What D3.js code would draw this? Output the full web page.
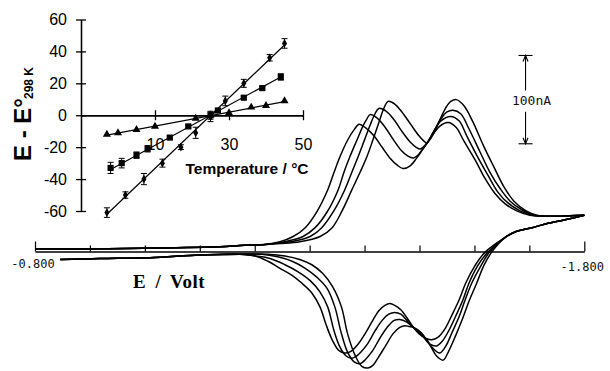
<!DOCTYPE html>
<html>
<head>
<meta charset="utf-8">
<script src="https://cdnjs.cloudflare.com/ajax/libs/d3/7.8.5/d3.min.js"></script>
<style>
  body { margin: 0; background: #fff; }
  svg { display: block; }
</style>
</head>
<body>
<div id="chart"></div>
<script>
// ---------------------------------------------
// Cyclic voltammograms at four temperatures
// points are [E (V), i (nA)]
// ---------------------------------------------
const fwdStart = [[-0.800, 3], [-0.918, 3], [-1.028, 4], [-1.119, 5], [-1.182, 7], [-1.219, 8]];

const fwd1 = [[-1.246, 11], [-1.270, 17], [-1.292, 27], [-1.313, 45], [-1.333, 70], [-1.344, 89],
  [-1.355, 107], [-1.369, 126], [-1.381, 138], [-1.390, 144], [-1.402, 140], [-1.417, 131],
  [-1.432, 118], [-1.446, 106], [-1.459, 98], [-1.470, 94], [-1.483, 97], [-1.495, 106],
  [-1.506, 116], [-1.515, 124], [-1.526, 134], [-1.537, 142], [-1.552, 146], [-1.566, 141],
  [-1.581, 125], [-1.601, 104], [-1.619, 83], [-1.637, 66], [-1.656, 54], [-1.677, 46], [-1.701, 41]];

const fwd2 = [[-1.246, 10], [-1.268, 13], [-1.288, 17], [-1.310, 27], [-1.332, 45], [-1.352, 70],
  [-1.362, 89], [-1.373, 107], [-1.386, 126], [-1.397, 142], [-1.404, 150], [-1.410, 155],
  [-1.423, 151], [-1.437, 141], [-1.452, 127], [-1.466, 115], [-1.479, 108], [-1.489, 106],
  [-1.497, 109], [-1.506, 116], [-1.515, 124], [-1.526, 136], [-1.539, 148], [-1.557, 153],
  [-1.572, 148], [-1.586, 131], [-1.606, 107], [-1.625, 86], [-1.643, 67], [-1.661, 55],
  [-1.683, 46], [-1.705, 41]];

const fwd3 = [[-1.246, 10], [-1.273, 12], [-1.301, 17], [-1.322, 27], [-1.344, 46], [-1.364, 70],
  [-1.377, 90], [-1.388, 107], [-1.399, 125], [-1.410, 143], [-1.419, 156], [-1.426, 162],
  [-1.439, 159], [-1.454, 149], [-1.468, 136], [-1.483, 124], [-1.494, 118], [-1.501, 116],
  [-1.508, 119], [-1.515, 124], [-1.526, 136], [-1.539, 150], [-1.550, 158], [-1.561, 160],
  [-1.575, 156], [-1.590, 139], [-1.610, 113], [-1.628, 90], [-1.647, 71], [-1.665, 57],
  [-1.687, 47], [-1.708, 41]];

const fwd4 = [[-1.246, 9], [-1.282, 11], [-1.319, 17], [-1.341, 27], [-1.359, 46], [-1.377, 70],
  [-1.392, 90], [-1.404, 107], [-1.415, 126], [-1.426, 146], [-1.435, 162], [-1.443, 170],
  [-1.455, 167], [-1.468, 158], [-1.484, 144], [-1.499, 131], [-1.508, 125], [-1.513, 123],
  [-1.517, 125], [-1.526, 134], [-1.537, 149], [-1.548, 163], [-1.557, 170], [-1.567, 172],
  [-1.581, 165], [-1.597, 147], [-1.617, 119], [-1.636, 95], [-1.654, 73], [-1.672, 57],
  [-1.694, 46], [-1.714, 41]];

const fwdEnd = [[-1.728, 40], [-1.756, 40], [-1.800, 41]];

const revStart = [[-1.800, 41], [-1.765, 36], [-1.734, 32], [-1.705, 27], [-1.677, 23], [-1.656, 16]];

const rev1 = [[-1.619, -1], [-1.601, -16], [-1.584, -36], [-1.572, -55], [-1.559, -72], [-1.546, -88],
  [-1.534, -97], [-1.522, -100], [-1.510, -98], [-1.499, -93], [-1.489, -86], [-1.477, -75],
  [-1.466, -66], [-1.455, -61], [-1.446, -59], [-1.437, -61], [-1.426, -67], [-1.413, -80],
  [-1.401, -93], [-1.388, -105], [-1.375, -113], [-1.364, -115], [-1.353, -112], [-1.341, -100],
  [-1.330, -83], [-1.319, -63], [-1.304, -47], [-1.286, -36], [-1.268, -27], [-1.246, -19],
  [-1.224, -11], [-1.201, -5]];

const rev2 = [[-1.624, -1], [-1.606, -16], [-1.590, -36], [-1.579, -55], [-1.566, -73], [-1.553, -90],
  [-1.541, -102], [-1.531, -107], [-1.519, -105], [-1.506, -96], [-1.497, -90], [-1.489, -86],
  [-1.477, -78], [-1.466, -71], [-1.455, -69], [-1.444, -71], [-1.432, -78], [-1.419, -90],
  [-1.406, -104], [-1.393, -114], [-1.384, -119], [-1.376, -121], [-1.366, -118], [-1.355, -108],
  [-1.344, -89], [-1.333, -63], [-1.319, -46], [-1.301, -33], [-1.279, -23], [-1.255, -15],
  [-1.228, -8], [-1.201, -5]];

const rev3 = [[-1.627, -1], [-1.612, -16], [-1.595, -36], [-1.583, -55], [-1.572, -74], [-1.559, -92],
  [-1.548, -107], [-1.537, -115], [-1.525, -110], [-1.512, -99], [-1.501, -91], [-1.489, -86],
  [-1.477, -80], [-1.464, -77], [-1.454, -78], [-1.441, -86], [-1.428, -98], [-1.415, -112],
  [-1.402, -122], [-1.392, -127], [-1.381, -125], [-1.369, -114], [-1.357, -91], [-1.346, -63],
  [-1.332, -42], [-1.313, -29], [-1.292, -19], [-1.268, -11], [-1.242, -6], [-1.213, -3]];

const rev4 = [[-1.631, -1], [-1.617, -16], [-1.604, -36], [-1.591, -55], [-1.579, -75], [-1.566, -95],
  [-1.553, -113], [-1.543, -123], [-1.532, -119], [-1.519, -106], [-1.503, -92], [-1.489, -86],
  [-1.481, -85], [-1.474, -84], [-1.464, -86], [-1.452, -93], [-1.439, -106], [-1.426, -119],
  [-1.415, -129], [-1.406, -132], [-1.395, -130], [-1.383, -118], [-1.369, -93], [-1.358, -63],
  [-1.342, -40], [-1.324, -25], [-1.304, -15], [-1.282, -9], [-1.255, -5], [-1.224, -3]];

const revEnd = [[-1.173, -3], [-1.100, -4], [-1.009, -7], [-0.918, -8], [-0.846, -9]];

const cvTicks = [-0.8, -0.9, -1.0, -1.1, -1.2, -1.3, -1.4, -1.5, -1.6, -1.7, -1.8];
const cvLabels = [[-0.8, "-0.800"], [-1.8, "-1.800"]];
const scaleBar = { e: -1.693, lo: 122, hi: 222, label: "100nA" };

// ---------------------------------------------
// Inset: E - E°(298 K) vs temperature
// ---------------------------------------------
const diamondT = [-3, 2, 7, 12, 17, 21, 25, 29, 34, 41, 45];
const diamondE = [-61, -50, -40, -30, -20, -11, -1, 9, 20, 36, 45];
const diamondErr = [3, 2, 3.5, 2.5, 1.5, 3.5, 3, 3, 2.5, 2, 3];
const diamondFit = [[-3, -62], [45, 44]];

const squareT = [-2, 1, 5, 8, 14, 19, 25, 27, 34, 39, 44];
const squareE = [-33, -30, -25, -21, -14, -7, 0, 3, 11, 17, 24];
const squareErr = [3.5, 3, 2, 2, 1, 1, 2.5, 1, 1, 1, 2];
const squareFit = [[-2, -34], [44, 24]];

const triangleT = [-3, 0, 5, 10, 21, 25, 30, 36, 40, 45];
const triangleE = [-12, -11, -9, -7, -2, 0, 1.5, 5, 6, 9];
const triangleFit = [[-3, -12.5], [45, 8.5]];

const insetYTicks = [-60, -40, -20, 0, 20, 40, 60];
const insetXTicks = [10, 30, 50];

//--------------------------------------------------
const W = 610, H = 371;
const sans = "'Liberation Sans', Arial, sans-serif";
const mono = "'DejaVu Sans Mono', monospace";

const svg = d3.select("#chart")
  .append("svg")
  .attr("width", W)
  .attr("height", H);

svg.append("rect").attr("width", W).attr("height", H).attr("fill", "#fff");

//--------------------------------------------------
// Main CV plot
//--------------------------------------------------
const x = d3.scaleLinear().domain([-0.8, -1.8]).range([35, 584.3]);
const y = d3.scaleLinear().domain([0, 100]).range([251.5, 163.2]);

const cvLine = d3.line()
  .x(d => x(d[0]))
  .y(d => y(d[1]))
  .curve(d3.curveCatmullRom.alpha(0.5));

const curves = [
  fwdStart.concat(fwd1, fwdEnd), fwdStart.concat(fwd2, fwdEnd),
  fwdStart.concat(fwd3, fwdEnd), fwdStart.concat(fwd4, fwdEnd),
  revStart.concat(rev1, revEnd), revStart.concat(rev2, revEnd),
  revStart.concat(rev3, revEnd), revStart.concat(rev4, revEnd)
];

// potential axis (ticks point up)
const xAxis = svg.append("g")
  .attr("transform", `translate(0,${y(0)})`)
  .call(d3.axisBottom(x).tickValues(cvTicks).tickSize(-6).tickSizeOuter(0).tickFormat(""));
xAxis.select(".domain").attr("stroke", "#000").attr("stroke-width", 1.3);
xAxis.selectAll(".tick line")
  .attr("stroke", "#000")
  .attr("stroke-width", 1.2)
  .attr("y2", (d, i) => (i === 0 || i === cvTicks.length - 1) ? -10 : -6);

svg.selectAll(".cv")
  .data(curves)
  .join("path")
  .attr("class", "cv")
  .attr("fill", "none")
  .attr("stroke", "#000")
  .attr("stroke-width", 1.5)
  .attr("d", cvLine);

svg.selectAll(".cvlab")
  .data(cvLabels)
  .join("text")
  .attr("class", "cvlab")
  .attr("x", d => x(d[0]) - 2)
  .attr("y", (d, i) => y(0) + (i === 0 ? 16 : 19))
  .attr("text-anchor", "middle")
  .attr("font-family", mono)
  .attr("font-size", "12px")
  .attr("fill", "#111")
  .text(d => d[1]);

svg.append("text")
  .attr("x", 133)
  .attr("y", 288)
  .attr("font-family", "'Liberation Serif', 'Times New Roman', serif")
  .attr("font-weight", "bold")
  .attr("font-size", "19px")
  .attr("letter-spacing", "0.5px")
  .attr("word-spacing", "4px")
  .text("E / Volt");

// current scale bar
const sb = svg.append("g").attr("stroke", "#000").attr("stroke-width", 1.1).attr("fill", "none");
const sbx = x(scaleBar.e);
const sbTop = y(scaleBar.hi), sbBot = y(scaleBar.lo);
sb.append("line").attr("x1", sbx).attr("x2", sbx).attr("y1", sbTop).attr("y2", sbTop + 35);
sb.append("line").attr("x1", sbx).attr("x2", sbx).attr("y1", sbBot - 32).attr("y2", sbBot);
sb.append("line").attr("x1", sbx - 7).attr("x2", sbx + 7).attr("y1", sbTop).attr("y2", sbTop);
sb.append("line").attr("x1", sbx - 7).attr("x2", sbx + 7).attr("y1", sbBot).attr("y2", sbBot);
sb.append("path").attr("d", `M${sbx - 2.5},${sbTop + 6}L${sbx},${sbTop}L${sbx + 2.5},${sbTop + 6}`);
sb.append("path").attr("d", `M${sbx - 2.5},${sbBot - 6}L${sbx},${sbBot}L${sbx + 2.5},${sbBot - 6}`);
svg.append("text")
  .attr("x", sbx + 6)
  .attr("y", (sbTop + sbBot) / 2 + 5)
  .attr("text-anchor", "middle")
  .attr("font-family", mono)
  .attr("font-size", "13px")
  .attr("fill", "#111")
  .text(scaleBar.label);

//--------------------------------------------------
// Inset
//--------------------------------------------------
const xT = d3.scaleLinear().domain([-10, 50]).range([81, 303]);
const yE = d3.scaleLinear().domain([-60, 60]).range([211, 19.5]);

const inset = svg.append("g");

inset.append("g")
  .attr("transform", `translate(${xT(-10)},0)`)
  .call(d3.axisLeft(yE).tickValues(insetYTicks).tickSize(5).tickSizeOuter(0)
    .tickPadding(9).tickFormat(d => String(d)));
inset.append("g")
  .attr("transform", `translate(${xT(-10)},0)`)
  .call(d3.axisLeft(yE).tickValues(insetYTicks).tickSize(-5).tickSizeOuter(0).tickFormat(""));

inset.append("g")
  .attr("transform", `translate(0,${yE(0)})`)
  .call(d3.axisBottom(xT).tickValues(insetXTicks).tickSize(5).tickSizeOuter(0)
    .tickPadding(18).tickFormat(d => String(d)));
inset.append("g")
  .attr("transform", `translate(0,${yE(0)})`)
  .call(d3.axisBottom(xT).tickValues(insetXTicks).tickSize(-5).tickSizeOuter(0).tickFormat(""));

inset.selectAll(".domain, .tick line").attr("stroke", "#000").attr("stroke-width", 1.3);
inset.selectAll(".tick text")
  .attr("font-family", sans)
  .attr("font-size", "16px")
  .attr("fill", "#000");

inset.append("text")
  .attr("x", 247)
  .attr("y", 174)
  .attr("text-anchor", "middle")
  .attr("font-family", sans)
  .attr("font-weight", "bold")
  .attr("font-size", "15.5px")
  .text("Temperature / °C");

const yLab = inset.append("text")
  .attr("transform", "translate(31,161) rotate(-90)")
  .attr("font-family", sans)
  .attr("font-weight", "bold")
  .attr("font-size", "24px");
yLab.append("tspan").text("E - E°");
yLab.append("tspan").attr("font-size", "12px").attr("dx", -1).attr("dy", 2).text("298 K");

const fitLine = d3.line().x(d => xT(d[0])).y(d => yE(d[1]));
[diamondFit, squareFit, triangleFit].forEach(f => {
  inset.append("path")
    .attr("d", fitLine(f))
    .attr("fill", "none")
    .attr("stroke", "#000")
    .attr("stroke-width", 1.2);
});

function errorBars(ts, es, errs) {
  const g = inset.append("g").attr("stroke", "#000").attr("stroke-width", 1);
  ts.forEach((t, i) => {
    const cx = xT(t), top = yE(es[i] + errs[i]), bot = yE(es[i] - errs[i]);
    g.append("line").attr("x1", cx).attr("x2", cx).attr("y1", top).attr("y2", bot);
    g.append("line").attr("x1", cx - 3).attr("x2", cx + 3).attr("y1", top).attr("y2", top);
    g.append("line").attr("x1", cx - 3).attr("x2", cx + 3).attr("y1", bot).attr("y2", bot);
  });
}
errorBars(diamondT, diamondE, diamondErr);
errorBars(squareT, squareE, squareErr);

function markers(ts, es, type, size) {
  inset.append("g")
    .selectAll("path")
    .data(ts)
    .join("path")
    .attr("transform", (t, i) => `translate(${xT(t)},${yE(es[i])})`)
    .attr("d", d3.symbol(type, size))
    .attr("fill", "#000");
}
markers(diamondT, diamondE, d3.symbolDiamond, 22);
markers(squareT, squareE, d3.symbolSquare, 38);
markers(triangleT, triangleE, d3.symbolTriangle, 28);
</script>
</body>
</html>
